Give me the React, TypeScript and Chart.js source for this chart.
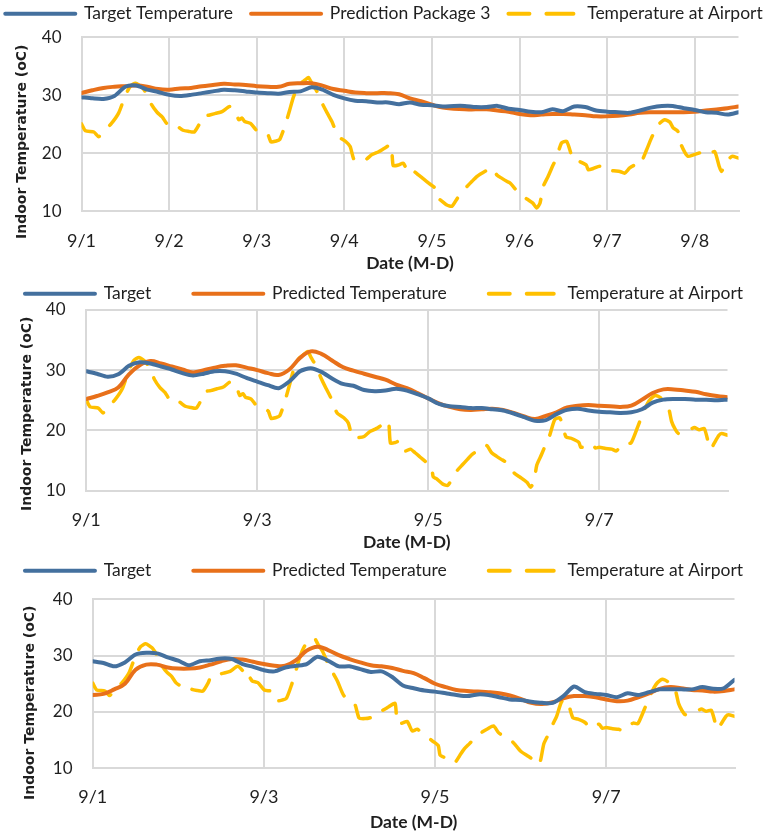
import React, { useEffect, useRef } from "react";
import { Chart, registerables } from "chart.js";

Chart.register(...registerables);

// ---------- data ----------
// indoor series: hours since 9/1 00:00, every 3 h
const hours = [
  0, 3, 6, 9, 12, 15, 18, 21, 24, 27, 30, 33, 36, 39, 42, 45, 48, 51, 54, 57,
  60, 63, 66, 69, 72, 75, 78, 81, 84, 87, 90, 93, 96, 99, 102, 105, 108, 111, 114, 117,
  120, 123, 126, 129, 132, 135, 138, 141, 144, 147, 150, 153, 156, 159, 162, 165, 168, 171, 174, 177,
  180,
];

// airport series: read at its turning points
const airportHours = [
  0, 1.1, 3.4, 4.7, 5.9, 8.1, 10.2, 12.0, 13.4, 14.8, 16.6, 18.0, 19.2, 20.7, 22.1, 23.3, 24.5, 25.7, 27.8, 29.4,
  30.9, 32.4, 33.2, 34.9, 36.7, 38.5, 40.6, 42.2, 43.1, 44.0, 44.7, 46.3, 48.1, 49.9, 51.1, 51.9, 53.1, 54.3, 55.8, 57.0,
  58.1, 59.5, 61.3, 62.2, 63.1, 64.5, 65.9, 67.3, 68.6, 70.4, 72.3, 73.6, 74.7, 76.4, 78.0, 79.6, 81.4, 83.0, 84.8, 85.4,
  86.8, 88.2, 89.6, 91.0, 92.3, 93.7, 95.3, 96.9, 97.4, 98.3, 100.1, 101.5, 102.9, 104.2, 105.6, 107.0, 108.3, 109.2, 110.8, 112.4,
  113.8, 115.2, 116.5, 117.4, 118.8, 120.2, 121.9, 123.7, 124.7, 125.6, 126.5, 127.8, 129.2, 130.1, 131.5, 132.9, 133.8, 134.7, 136.1, 138.3,
  138.8, 140.2, 142.0, 142.9, 144.0, 145.8, 147.5, 148.8, 150.2, 151.6, 152.9, 154.8, 156.1, 157.5, 158.4, 159.8, 161.2, 162.1, 163.4, 164.3,
  165.3, 166.2, 167.5, 169.4, 170.7, 172.1, 173.5, 174.7, 175.3, 176.2, 177.6, 178.3, 180.0,
];
const airportTemp = [
  25.1, 23.9, 23.7, 22.9, 23.7, 25.1, 27.0, 30.0, 31.6, 32.1, 31.4, 30.1, 28.4, 27.1, 26.3, 25.2, 24.7, 24.9, 24.0, 23.8,
  23.7, 25.2, 26.4, 26.6, 26.9, 27.2, 28.1, 27.2, 25.8, 26.1, 25.5, 25.2, 23.9, 23.7, 23.2, 22.0, 22.1, 22.4, 24.9, 27.4,
  29.8, 31.8, 32.7, 33.1, 32.1, 30.7, 28.7, 27.0, 25.5, 22.9, 22.1, 21.2, 18.9, 18.8, 19.0, 19.8, 20.3, 20.9, 21.5, 17.9,
  18.0, 18.3, 16.6, 16.9, 16.3, 15.6, 14.8, 14.0, 12.3, 12.0, 11.1, 10.9, 12.2, 13.4, 14.3, 15.2, 16.0, 16.4, 17.0, 17.5,
  16.3, 15.7, 15.2, 14.9, 13.9, 12.9, 12.2, 11.4, 10.6, 11.4, 14.3, 16.0, 18.0, 19.2, 21.8, 22.1, 20.6, 18.9, 18.7, 18.0,
  17.2, 17.4, 17.8, 17.1, 17.2, 17.0, 16.9, 16.6, 17.5, 18.0, 17.9, 20.6, 22.6, 24.4, 25.2, 25.8, 25.4, 24.4, 23.8, 21.5,
  20.2, 19.5, 19.7, 20.1, 20.5, 20.1, 20.3, 17.8, 16.9, 17.8, 19.2, 19.5, 19.2,
];

const target1 = [
  29.7, 29.5, 29.4, 29.9, 31.5, 31.7, 31.0, 30.6, 30.1, 29.9, 30.1, 30.4, 30.7, 31.0, 30.9, 30.7, 30.5, 30.4, 30.3, 30.6,
  30.7, 31.4, 31.0, 30.1, 29.5, 29.1, 29.0, 28.8, 28.8, 28.5, 28.8, 28.4, 28.3, 28.1, 28.2, 28.2, 28.0, 28.0, 28.2, 27.7,
  27.5, 27.2, 27.1, 27.6, 27.3, 28.1, 28.0, 27.4, 27.2, 27.1, 27.0, 27.4, 27.9, 28.2, 28.2, 27.8, 27.5, 27.1, 27.0, 26.7,
  27.1,
];
const prediction1 = [
  30.4, 30.9, 31.3, 31.5, 31.6, 31.7, 31.5, 31.1, 31.0, 31.2, 31.3, 31.6, 31.8, 32.0, 31.9, 31.8, 31.6, 31.5, 31.5, 32.0,
  32.1, 32.1, 31.7, 31.1, 30.8, 30.5, 30.4, 30.4, 30.4, 30.2, 29.5, 29.0, 28.4, 27.9, 27.7, 27.6, 27.6, 27.6, 27.4, 27.2,
  26.8, 26.6, 26.7, 26.8, 26.8, 26.7, 26.6, 26.4, 26.4, 26.5, 26.7, 27.0, 27.1, 27.1, 27.1, 27.1, 27.2, 27.4, 27.6, 27.8,
  28.1,
];

const target2 = [
  29.8, 29.4, 28.9, 29.3, 30.7, 31.3, 31.1, 30.6, 30.1, 29.5, 29.1, 29.4, 29.8, 29.8, 29.4, 28.7, 28.1, 27.5, 27.0, 28.1,
  29.8, 30.3, 29.7, 28.6, 27.7, 27.4, 26.7, 26.5, 26.6, 26.9, 26.6, 26.0, 25.3, 24.4, 24.0, 23.9, 23.7, 23.7, 23.5, 23.3,
  22.8, 22.2, 21.6, 21.7, 22.7, 23.4, 23.6, 23.3, 23.1, 23.0, 22.9, 23.0, 23.5, 24.6, 25.1, 25.2, 25.2, 25.1, 25.1, 25.0,
  25.1,
];
const predicted2 = [
  25.2, 25.7, 26.3, 27.1, 29.3, 30.8, 31.5, 31.1, 30.6, 30.1, 29.6, 30.0, 30.4, 30.7, 30.8, 30.4, 30.0, 29.5, 29.2, 30.1,
  32.0, 33.1, 32.7, 31.6, 30.5, 29.9, 29.4, 28.9, 28.4, 27.6, 27.0, 26.2, 25.3, 24.5, 23.9, 23.5, 23.4, 23.5, 23.6, 23.4,
  22.9, 22.3, 21.9, 22.4, 23.0, 23.8, 24.1, 24.2, 24.1, 24.0, 23.9, 24.1, 25.1, 26.2, 26.8, 26.8, 26.6, 26.4, 26.0, 25.7,
  25.5,
];

const target3 = [
  29.0, 28.7, 28.1, 28.8, 30.2, 30.5, 30.4, 29.7, 29.1, 28.3, 29.0, 29.2, 29.5, 29.4, 28.5, 28.0, 27.4, 27.2, 27.9, 28.2,
  28.5, 29.8, 29.1, 28.1, 28.1, 27.6, 27.1, 27.2, 26.2, 24.7, 24.2, 23.8, 23.6, 23.3, 23.0, 22.8, 23.1, 23.0, 22.6, 22.2,
  22.1, 21.8, 21.6, 21.6, 22.8, 24.5, 23.5, 23.2, 23.0, 22.6, 23.3, 23.0, 23.5, 24.0, 24.0, 24.0, 24.0, 24.4, 24.1, 24.2,
  25.7,
];
const predicted3 = [
  23.0, 23.2, 24.0, 25.0, 27.5, 28.4, 28.4, 27.9, 27.7, 27.7, 27.9, 28.4, 29.0, 29.4, 29.3, 28.9, 28.5, 28.2, 28.2, 29.2,
  30.9, 31.6, 31.0, 30.1, 29.4, 28.8, 28.3, 28.1, 27.8, 27.3, 26.9, 26.0, 25.0, 24.4, 23.9, 23.7, 23.6, 23.5, 23.3, 22.9,
  22.3, 21.6, 21.4, 21.7, 22.4, 22.8, 22.8, 22.6, 22.2, 21.9, 22.0, 22.6, 23.3, 24.1, 24.4, 24.2, 23.9, 23.8, 23.6, 23.7,
  24.0,
];

const dailyTickHours = [0, 24, 48, 72, 96, 120, 144, 168];
const dailyTickLabels = ["9/1", "9/2", "9/3", "9/4", "9/5", "9/6", "9/7", "9/8"];
const twoDayTickHours = [0, 48, 96, 144];
const twoDayTickLabels = ["9/1", "9/3", "9/5", "9/7"];

const seriesNames1 = ["Target Temperature", "Prediction Package 3", "Temperature at Airport"];
const seriesNames2 = ["Target", "Predicted Temperature", "Temperature at Airport"];

const yTicks = [10, 20, 30, 40];
const xAxisTitle = "Date (M-D)";
const yAxisTitle = "Indoor Temperature (oC)";

// ---------- styling ----------
const BLUE = "#44709E";
const ORANGE = "#E8701A";
const YELLOW = "#FFC000";
const GRID = "#D9D9D9";
const TEXT = "#1F1F1F";
const HFONT = "Lato, 'Noto Sans', sans-serif";
const VFONT = "'DejaVu Sans', Verdana, sans-serif";

const PAGE_W = 767;
const CANVAS_W = 900;
const OFF = (CANVAS_W - PAGE_W) / 2; // canvas x = page x + OFF
const LEG_FONT = 17.5;
const YTICK_FONT = 17;
const XTICK_FONT = 18;
const XT_FONT = 17.5;
const YT_FONT = 14;

type Panel = {
  names: string[];
  target: number[];
  pred: number[];
  tickHours: number[];
  tickLabels: string[];
  legendY: number; // page coords
  gap: number;
  top: number;
  bottom: number;
  left: number;
  right: number;
  yTickRight: number;
  xTickY: number;
  xTitleY: number;
  yTitleX: number;
  yTitleY: number;
};

const panels: Panel[] = [
  {
    names: seriesNames1, target: target1, pred: prediction1,
    tickHours: dailyTickHours, tickLabels: dailyTickLabels,
    legendY: 14, gap: 18, top: 37.7, bottom: 211.7, left: 81, right: 738,
    yTickRight: 61, xTickY: 241, xTitleY: 264, yTitleX: 22, yTitleY: 142,
  },
  {
    names: seriesNames2, target: target2, pred: predicted2,
    tickHours: twoDayTickHours, tickLabels: twoDayTickLabels,
    legendY: 294, gap: 42, top: 310, bottom: 491, left: 85.7, right: 727,
    yTickRight: 65, xTickY: 520, xTitleY: 543, yTitleX: 27, yTitleY: 414,
  },
  {
    names: seriesNames2, target: target3, pred: predicted3,
    tickHours: twoDayTickHours, tickLabels: twoDayTickLabels,
    legendY: 571, gap: 42, top: 599.7, bottom: 768.3, left: 92.3, right: 734,
    yTickRight: 72, xTickY: 797, xTitleY: 823, yTitleX: 30, yTitleY: 703,
  },
];

function geometry(p: Panel) {
  const canvasTop = p.legendY - p.gap - LEG_FONT / 2;
  const height = Math.ceil(p.xTitleY - canvasTop + XT_FONT * 0.6 + 2);
  return { canvasTop, height };
}

const legendHeightPlugin = {
  id: "legendHeight",
  beforeInit(chart: any, _args: any, opts: any) {
    const orig = chart.legend.fit;
    chart.legend.fit = function () {
      orig.call(this);
      if (opts && opts.height) this.height = opts.height;
    };
  },
};

// vertical axis title, centred where the original places it
const yTitlePlugin = {
  id: "yTitle",
  afterDraw(chart: any, _args: any, opts: any) {
    const ctx = chart.ctx;
    ctx.save();
    ctx.translate(opts.x, opts.y);
    ctx.rotate(-Math.PI / 2);
    ctx.font = `bold ${YT_FONT}px ${VFONT}`;
    ctx.fillStyle = TEXT;
    ctx.textAlign = "center";
    ctx.textBaseline = "middle";
    ctx.fillText(opts.text, 0, 0);
    ctx.restore();
  },
};

function build(canvas: HTMLCanvasElement, p: Panel) {
  const { canvasTop, height } = geometry(p);
  const pts = (xs: number[], ys: number[]) => xs.map((h, i) => ({ x: h, y: ys[i] }));
  const xtLine = XT_FONT * 1.2;
  return new Chart(canvas, {
    type: "line",
    data: {
      datasets: [
        {
          label: p.names[0], data: pts(hours, p.target), borderColor: BLUE, backgroundColor: BLUE,
          borderWidth: 4, pointRadius: 0, tension: 0.25, borderCapStyle: "round", borderJoinStyle: "round",
        },
        {
          label: p.names[1], data: pts(hours, p.pred), borderColor: ORANGE, backgroundColor: ORANGE,
          borderWidth: 4, pointRadius: 0, tension: 0.4, borderCapStyle: "round", borderJoinStyle: "round",
        },
        {
          label: p.names[2], data: pts(airportHours, airportTemp), borderColor: YELLOW, backgroundColor: YELLOW,
          borderWidth: 3.5, pointRadius: 0, tension: 0.2, borderDash: [24, 15],
          borderCapStyle: "round", borderJoinStyle: "round",
        },
      ] as any,
    },
    options: {
      responsive: false,
      animation: false,
      events: [],
      layout: { padding: 0 },
      plugins: {
        tooltip: { enabled: false },
        legend: {
          display: true,
          position: "top",
          align: "center",
          labels: {
            usePointStyle: true,
            pointStyleWidth: 70,
            padding: p.gap,
            color: TEXT,
            font: { family: HFONT, size: LEG_FONT },
            generateLabels: (chart: any) =>
              chart.data.datasets.map((ds: any, i: number) => ({
                text: ds.label,
                fillStyle: ds.borderColor,
                strokeStyle: ds.borderColor,
                lineWidth: 4,
                lineDash: ds.borderDash ? [27, 17] : [],
                lineDashOffset: ds.borderDash ? 6 : 0,
                lineCap: "round",
                pointStyle: "line",
                hidden: false,
                datasetIndex: i,
                fontColor: TEXT,
              })),
          },
        },
        legendHeight: { height: p.top - canvasTop },
        yTitle: { text: yAxisTitle, x: p.yTitleX + OFF, y: p.yTitleY - canvasTop },
      } as any,
      scales: {
        x: {
          type: "linear",
          min: 0,
          max: 180,
          afterBuildTicks: (s: any) => {
            s.ticks = p.tickHours.map((v) => ({ value: v }));
          },
          afterFit: (s: any) => {
            s.height = height - (p.bottom - canvasTop);
            s.paddingRight = CANVAS_W - (p.right + OFF);
          },
          ticks: {
            autoSkip: false,
            maxRotation: 0,
            padding: p.xTickY - p.bottom - XTICK_FONT * 0.6,
            color: TEXT,
            font: { family: HFONT, size: XTICK_FONT },
            callback: (v: any) => {
              const k = p.tickHours.indexOf(Number(v));
              return k >= 0 ? p.tickLabels[k] : "";
            },
          },
          grid: { color: GRID, lineWidth: 2, drawTicks: false },
          border: { display: true, color: GRID, width: 2 },
          title: {
            display: true,
            text: xAxisTitle,
            color: TEXT,
            font: { family: HFONT, size: XT_FONT, weight: "bold" },
            padding: { top: 0, bottom: height - (p.xTitleY - canvasTop) - xtLine / 2 },
          },
        },
        y: {
          min: 10,
          max: 40,
          afterBuildTicks: (s: any) => {
            s.ticks = yTicks.map((v) => ({ value: v }));
          },
          afterFit: (s: any) => {
            s.width = p.left + OFF;
          },
          ticks: {
            padding: p.left - p.yTickRight,
            color: TEXT,
            font: { family: HFONT, size: YTICK_FONT },
          },
          grid: { color: GRID, lineWidth: 2, drawTicks: false },
          border: { display: true, color: GRID, width: 2 },
          title: { display: false, text: yAxisTitle },
        },
      } as any,
    },
    plugins: [legendHeightPlugin as any, yTitlePlugin as any],
  });
}

export default function App() {
  const r0 = useRef<HTMLCanvasElement>(null);
  const r1 = useRef<HTMLCanvasElement>(null);
  const r2 = useRef<HTMLCanvasElement>(null);
  const refs = [r0, r1, r2];

  useEffect(() => {
    const charts = refs.map((r, i) => build(r.current as HTMLCanvasElement, panels[i]));
    return () => charts.forEach((c) => c.destroy());
  }, []);

  return (
    <div
      style={{
        position: "fixed", left: 0, top: 0, width: PAGE_W, height: 832,
        overflow: "hidden", background: "#ffffff",
      }}
    >
      {panels.map((p, i) => {
        const g = geometry(p);
        return (
          <canvas
            key={i}
            ref={refs[i]}
            width={CANVAS_W}
            height={g.height}
            style={{
              position: "absolute", left: -OFF, top: g.canvasTop,
              width: CANVAS_W, height: g.height, display: "block",
            }}
          />
        );
      })}
    </div>
  );
}
